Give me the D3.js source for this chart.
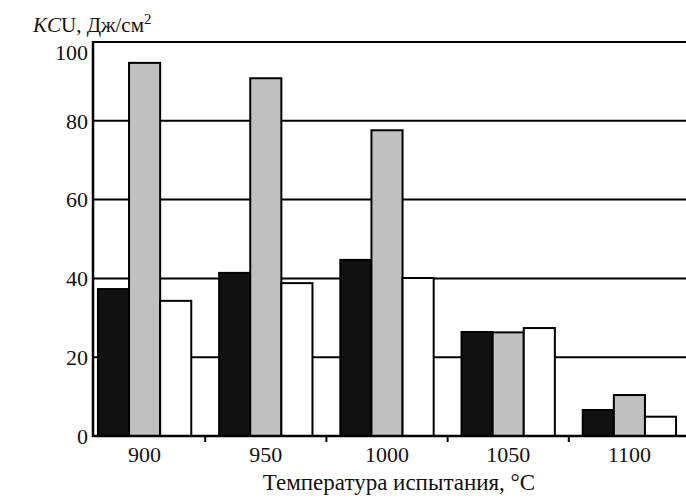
<!DOCTYPE html>
<html>
<head>
<meta charset="utf-8">
<script src="https://cdn.jsdelivr.net/npm/d3@7"></script>
<style>
    body { margin: 0; background: #fff; }
    svg { display: block; }
    text { font-family: "Liberation Serif", "Times New Roman", serif; fill: #111; }
</style>
</head>
<body>
<div id="chart"></div>
<script>
// data
const temps = ['900', '950', '1000', '1050', '1100'];
const series = ['s1', 's2', 's3'];
const s1 = [37.3, 41.4, 44.7, 26.4, 6.6];
const s2 = [94.7, 90.8, 77.6, 26.3, 10.4];
const s3 = [34.3, 38.8, 40.1, 27.4, 4.9];
const yTicks = [0, 20, 40, 60, 80, 100];
const colors = ['#111111', '#c0c0c0', '#ffffff'];

const width = 686, height = 499;
const margin = { top: 42, right: 0, bottom: 63, left: 93 };
const plotBottom = height - margin.bottom;

const svg = d3.select('#chart')
    .append('svg')
    .attr('width', width)
    .attr('height', height);

const y = d3.scaleLinear()
    .domain([0, 100])
    .range([plotBottom, margin.top]);

const x0 = d3.scaleBand()
    .domain(temps)
    .range([84, 690])
    .paddingInner(0.23)
    .paddingOuter(0.115);

const x1 = d3.scaleBand()
    .domain(series)
    .range([0, x0.bandwidth()]);

// grid lines (top one doubles as the frame)
svg.append('g')
    .selectAll('line')
    .data(yTicks.filter(d => d > 0))
    .enter()
    .append('line')
    .attr('x1', margin.left)
    .attr('x2', width)
    .attr('y1', d => y(d))
    .attr('y2', d => y(d))
    .attr('stroke', '#000')
    .attr('stroke-width', 2);

// bars
const rows = temps.map((t, i) => ({ t: t, vals: [s1[i], s2[i], s3[i]] }));
svg.append('g')
    .selectAll('g')
    .data(rows)
    .enter()
    .append('g')
    .attr('transform', d => `translate(${x0(d.t)},0)`)
    .selectAll('rect')
    .data(d => d.vals.map((v, j) => ({ key: series[j], v: v, j: j })))
    .enter()
    .append('rect')
    .attr('x', d => x1(d.key))
    .attr('width', x1.bandwidth())
    .attr('y', d => y(d.v))
    .attr('height', d => y(0) - y(d.v))
    .attr('fill', d => colors[d.j])
    .attr('stroke', '#000')
    .attr('stroke-width', 2);

// left axis
svg.append('line')
    .attr('x1', margin.left).attr('x2', margin.left)
    .attr('y1', margin.top - 1).attr('y2', plotBottom + 1)
    .attr('stroke', '#000').attr('stroke-width', 2.5);

svg.append('g')
    .selectAll('text')
    .data(yTicks)
    .enter()
    .append('text')
    .attr('x', 88)
    .attr('y', d => y(d))
    .attr('dy', d => d === 100 ? '0.8em' : '0.35em')   // top label sits below the frame line
    .attr('text-anchor', 'end')
    .style('font-size', '22px')
    .text(d => d);

// bottom axis
svg.append('line')
    .attr('x1', margin.left).attr('x2', width)
    .attr('y1', plotBottom).attr('y2', plotBottom)
    .attr('stroke', '#000').attr('stroke-width', 2.5);

const gap = x0.step() * x0.paddingInner() / 2;
svg.append('g')
    .selectAll('line')
    .data(temps.slice(0, -1))
    .enter()
    .append('line')
    .attr('x1', d => x0(d) + x0.bandwidth() + gap)
    .attr('x2', d => x0(d) + x0.bandwidth() + gap)
    .attr('y1', plotBottom)
    .attr('y2', plotBottom + 6)
    .attr('stroke', '#000')
    .attr('stroke-width', 2);

svg.append('g')
    .selectAll('text')
    .data(temps)
    .enter()
    .append('text')
    .attr('x', d => x0(d) + x0.bandwidth() / 2)
    .attr('y', 462)
    .attr('text-anchor', 'middle')
    .style('font-size', '22px')
    .text(d => d);

svg.append('text')
    .attr('x', 399)
    .attr('y', 490)
    .attr('text-anchor', 'middle')
    .style('font-size', '23px')
    .text('Температура испытания, °C');

// y title
const title = svg.append('text')
    .attr('x', 33)
    .attr('y', 32)
    .style('font-size', '21px');
title.append('tspan').style('font-style', 'italic').text('KC');
title.append('tspan').text('U, Дж/см');
title.append('tspan').attr('dy', -8).style('font-size', '15px').text('2');
</script>
</body>
</html>
